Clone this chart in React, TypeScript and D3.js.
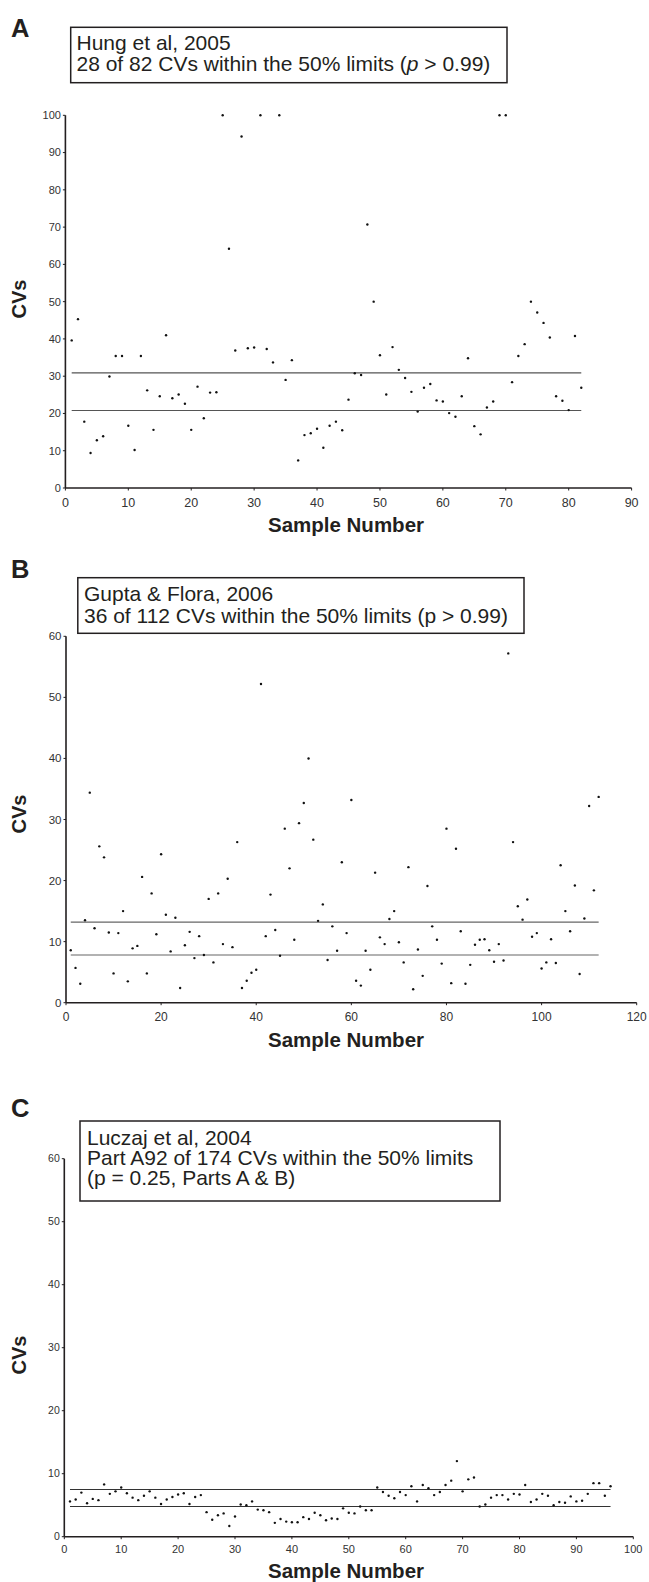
import React from "react";
import * as d3 from "d3";

// CVs, sample number = position in the array (1..n)
const hungCVs = [
  39.6, 45.3, 17.8, 9.4, 12.8, 13.9, 29.9, 35.4, 35.4, 16.7,
  10.2, 35.4, 26.2, 15.6, 24.6, 41.0, 24.1, 25.1, 22.6, 15.6,
  27.2, 18.7, 25.6, 25.7, 100, 64.2, 36.9, 94.3, 37.5, 37.7,
  100, 37.3, 33.7, 100, 29.0, 34.3, 7.4, 14.2, 14.7, 15.9,
  10.8, 16.7, 17.8, 15.5, 23.7, 30.8, 30.3, 70.7, 50.0, 35.6,
  25.1, 37.8, 31.7, 29.5, 25.8, 20.5, 26.9, 27.9, 23.5, 23.2,
  20.1, 19.1, 24.6, 34.8, 16.6, 14.4, 21.6, 23.2, 100, 100,
  28.4, 35.4, 38.6, 50.0, 47.1, 44.3, 40.4, 24.6, 23.4, 20.9, 40.8, 26.9,
];
const hungLimits = [20.8, 30.9];

const guptaCVs = [
  8.6, 5.7, 3.1, 13.5, 34.4, 12.2, 25.6, 23.8, 11.5, 4.8,
  11.4, 15.0, 3.5, 8.9, 9.3, 20.6, 4.8, 17.9, 11.2, 24.3,
  14.4, 8.4, 13.9, 2.4, 9.4, 11.6, 7.3, 10.9, 7.8, 17.0,
  6.6, 17.9, 9.6, 20.3, 9.1, 26.3, 2.4, 3.6, 4.9, 5.4,
  52.2, 10.9, 17.7, 11.9, 7.7, 28.5, 22.0, 10.3, 29.4, 32.7,
  40.0, 26.7, 13.4, 16.1, 7.0, 12.5, 8.5, 23.0, 11.4, 33.2,
  3.6, 2.8, 8.5, 5.4, 21.3, 10.7, 9.6, 13.7, 15.0, 9.9,
  6.6, 22.2, 2.2, 8.7, 4.4, 19.1, 12.5, 10.3, 6.4, 28.5,
  3.2, 25.2, 11.7, 3.1, 6.2, 9.5, 10.3, 10.4, 8.6, 6.7,
  9.6, 6.9, 57.2, 26.3, 15.8, 13.6, 16.9, 10.8, 11.4, 5.6,
  6.6, 10.4, 6.5, 22.5, 15.0, 11.7, 19.2, 4.7, 13.8, 32.2,
  18.4, 33.7,
];
const guptaLimits = [7.8, 13.2];

const luczajCVs = [
  5.6, 5.9, 7.0, 5.3, 6.0, 5.8, 8.3, 6.8, 7.2, 7.8,
  6.9, 6.2, 5.8, 6.5, 7.2, 6.2, 5.2, 5.9, 6.3, 6.7,
  6.9, 5.2, 6.3, 6.6, 3.9, 2.7, 3.4, 3.7, 1.7, 3.2,
  5.1, 5.0, 5.6, 4.3, 4.2, 3.9, 2.2, 2.8, 2.4, 2.3,
  2.3, 3.1, 2.8, 3.8, 3.4, 2.6, 2.9, 2.8, 4.5, 3.8,
  3.7, 4.8, 4.2, 4.2, 7.8, 7.1, 6.5, 6.1, 7.1, 6.6,
  8.0, 5.6, 8.2, 7.7, 6.6, 7.1, 8.2, 8.9, 12.0, 7.2,
  9.1, 9.4, 4.8, 5.1, 6.2, 6.6, 6.6, 5.9, 6.8, 6.7,
  8.2, 5.5, 5.9, 6.8, 6.5, 5.0, 5.5, 5.4, 6.4, 5.6,
  5.7, 6.8, 8.5, 8.5, 6.5, 8.0,
];
const luczajLimits = [4.8, 7.5];

const FONT = "'Liberation Sans', Arial, Helvetica, sans-serif";
const INK = "#231f20";

type PanelProps = {
  letter: string;
  letterY: number;
  box: [number, number, number, number];
  textX: number;
  textY: number;
  lineGap: number;
  lines: React.ReactNode[];
  values: number[];
  limits: number[];
  limitColor: string;
  xMax: number;
  xTickCount: number;
  yMax: number;
  x0: number;
  x1: number;
  yTop: number;
  yBottom: number;
  xTickFont: number;
  yTickFont: number;
  xLabelDy: number;
  titleY: number;
  cvY: number;
};

function Panel(p: PanelProps) {
  const x = d3.scaleLinear().domain([0, p.xMax]).range([p.x0, p.x1]);
  const y = d3.scaleLinear().domain([0, p.yMax]).range([p.yBottom, p.yTop]);
  const xTicks = x.ticks(p.xTickCount);
  const yTicks = y.ticks(p.yMax / 10);
  const n = p.values.length;
  const [bx, by, bw, bh] = p.box;

  return (
    <g fontFamily={FONT}>
      <text x={11} y={p.letterY} fontSize={25.5} fontWeight="bold" fill={INK}>
        {p.letter}
      </text>
      <rect x={bx} y={by} width={bw} height={bh} fill="white" stroke={INK} strokeWidth={1.5} />
      {p.lines.map((l, i) => (
        <text key={i} x={p.textX} y={p.textY + i * p.lineGap} fontSize={21} fill={INK}>
          {l}
        </text>
      ))}

      {/* 50% limit lines */}
      {p.limits.map((v, i) => (
        <line key={i} x1={x(1)} x2={x(n)} y1={y(v)} y2={y(v)} stroke={p.limitColor} strokeWidth={1.1} />
      ))}

      {/* y axis */}
      <line x1={p.x0} x2={p.x0} y1={y(0)} y2={y(p.yMax)} stroke={INK} strokeWidth={1.6} />
      {yTicks.map((t) => (
        <g key={t}>
          <line x1={p.x0 - 2.5} x2={p.x0} y1={y(t)} y2={y(t)} stroke={INK} strokeWidth={1} />
          <text x={p.x0 - 4.5} y={y(t)} dy="0.35em" textAnchor="end" fontSize={p.yTickFont} fill="#333">
            {t}
          </text>
        </g>
      ))}

      {/* x axis */}
      <line x1={p.x0} x2={p.x1} y1={p.yBottom} y2={p.yBottom} stroke={INK} strokeWidth={1.6} />
      {xTicks.map((t) => (
        <g key={t}>
          <line x1={x(t)} x2={x(t)} y1={p.yBottom} y2={p.yBottom + 2.5} stroke={INK} strokeWidth={1} />
          <text x={x(t)} y={p.yBottom + p.xLabelDy} textAnchor="middle" fontSize={p.xTickFont} fill="#333">
            {t}
          </text>
        </g>
      ))}

      {/* points */}
      {p.values.map((v, i) => (
        <circle key={i} cx={x(i + 1)} cy={y(v)} r={1.2} fill="#111" />
      ))}

      <text x={346} y={p.titleY} textAnchor="middle" fontSize={20.5} fontWeight="bold" fill={INK}>
        Sample Number
      </text>
      <text
        transform={`translate(26,${p.cvY}) rotate(-90)`}
        textAnchor="middle"
        fontSize={20}
        fontWeight="bold"
        fill={INK}
      >
        CVs
      </text>
    </g>
  );
}

export default function App() {
  return (
    <div style={{ position: "absolute", left: 0, top: 0, width: 649, height: 1582, background: "#fff" }}>
      <svg width={649} height={1582} style={{ display: "block" }}>
        <rect width={649} height={1582} fill="#fff" />
        <Panel
          letter="A"
          letterY={36.5}
          box={[70.7, 27.3, 436.3, 55.4]}
          textX={76.5}
          textY={50}
          lineGap={20.7}
          lines={[
            "Hung et al, 2005",
            <>
              28 of 82 CVs within the 50% limits (<tspan fontStyle="italic">p</tspan> &gt; 0.99)
            </>,
          ]}
          values={hungCVs}
          limits={hungLimits}
          limitColor="#555"
          xMax={90}
          xTickCount={9}
          yMax={100}
          x0={65.4}
          x1={631.6}
          yTop={115.3}
          yBottom={488}
          xTickFont={12.5}
          yTickFont={11}
          xLabelDy={18.5}
          titleY={531.7}
          cvY={299}
        />
        <Panel
          letter="B"
          letterY={578}
          box={[77.8, 577.7, 446.2, 55.6]}
          textX={84}
          textY={600.7}
          lineGap={22.6}
          lines={["Gupta & Flora, 2006", "36 of 112 CVs within the 50% limits (p > 0.99)"]}
          values={guptaCVs}
          limits={guptaLimits}
          limitColor="#666"
          xMax={120}
          xTickCount={6}
          yMax={60}
          x0={66}
          x1={636.7}
          yTop={636.3}
          yBottom={1002.7}
          xTickFont={12}
          yTickFont={11.5}
          xLabelDy={18}
          titleY={1047.3}
          cvY={814}
        />
        <Panel
          letter="C"
          letterY={1117}
          box={[80, 1121, 420, 80]}
          textX={87}
          textY={1145}
          lineGap={20}
          lines={["Luczaj et al, 2004", "Part A92 of 174 CVs within the 50% limits", "(p = 0.25, Parts A & B)"]}
          values={luczajCVs}
          limits={luczajLimits}
          limitColor="#333"
          xMax={100}
          xTickCount={10}
          yMax={60}
          x0={64.3}
          x1={633.3}
          yTop={1158.7}
          yBottom={1536.7}
          xTickFont={11}
          yTickFont={10.5}
          xLabelDy={16.6}
          titleY={1578.3}
          cvY={1355}
        />
      </svg>
    </div>
  );
}
